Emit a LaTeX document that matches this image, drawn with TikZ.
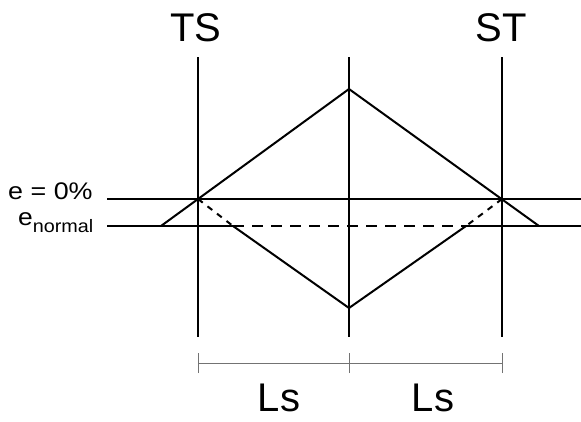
\documentclass[tikz,border=0pt]{standalone}
\usepackage{fontspec}
\setmainfont{Liberation Sans}
\begin{document}
\begin{tikzpicture}[x=1pt,y=-1pt,
  main/.style={line width=2pt,line cap=butt},
  dimline/.style={line width=0.9pt,draw=black!55},
  bigtxt/.style={font=\fontsize{40}{40}\selectfont,inner sep=0pt,anchor=base},
  smalltxt/.style={inner sep=0pt,anchor=base west}]
\useasboundingbox (0,0) rectangle (581,421);
% coordinates
\coordinate (TSt) at (198,57); \coordinate (TSb) at (198,337);
\coordinate (Ct) at (349,57);  \coordinate (Cb) at (349,337);
\coordinate (STt) at (502,57); \coordinate (STb) at (502,337);
\coordinate (e0L) at (107,199); \coordinate (e0R) at (581,199);
\coordinate (enL) at (107,226); \coordinate (enR) at (581,226);
\coordinate (P) at (349,89); \coordinate (B) at (349,308);
\coordinate (A1) at (161,226); \coordinate (A2) at (539,226);
\coordinate (D1) at (233,226); \coordinate (D2) at (466,226);
\coordinate (I1) at (198,199); \coordinate (I2) at (502,199);
% verticals
\draw[main] (TSt) -- (TSb);
\draw[main] (Ct) -- (Cb);
\draw[main] (STt) -- (STb);
% horizontals
\draw[main] (e0L) -- (e0R);
\draw[main] (enL) -- (D1);
\draw[main] (D2) -- (enR);
\draw[main,dash pattern=on 11pt off 8pt] (D1) -- (D2);
% upper triangle
\draw[main,line join=miter] (A1) -- (P) -- (A2);
% lower triangle
\draw[main,line join=miter] (D1) -- (B) -- (D2);
\draw[main,dash pattern=on 6pt off 6pt] (I1) -- (D1);
\draw[main,dash pattern=on 6pt off 6pt] (I2) -- (D2);
% dimension
\coordinate (m1) at (198,363); \coordinate (m2) at (349,363); \coordinate (m3) at (502,363);
\draw[dimline] (m1) -- (m3);
\draw[dimline] ([yshift=-10pt]m1) -- ([yshift=10pt]m1);
\draw[dimline] ([yshift=-10pt]m2) -- ([yshift=10pt]m2);
\draw[dimline] ([yshift=-10pt]m3) -- ([yshift=10pt]m3);
% labels
\node[bigtxt] (ts) at (196,41) {TS};
\node[bigtxt] (st) at (501,41) {ST};
\node[bigtxt] (ls1) at (279,411) {Ls};
\node[bigtxt] (ls2) at (433,411) {Ls};
\node[smalltxt] (e0) at (8,199) {\scalebox{1.12}[1]{\fontsize{24}{24}\selectfont e = 0\%}};
\node[smalltxt] (en) at (18,225) {\scalebox{1.1}[1]{\fontsize{24}{24}\selectfont e\raisebox{-7pt}{\fontsize{18}{18}\selectfont normal}}};
\end{tikzpicture}
\end{document}
